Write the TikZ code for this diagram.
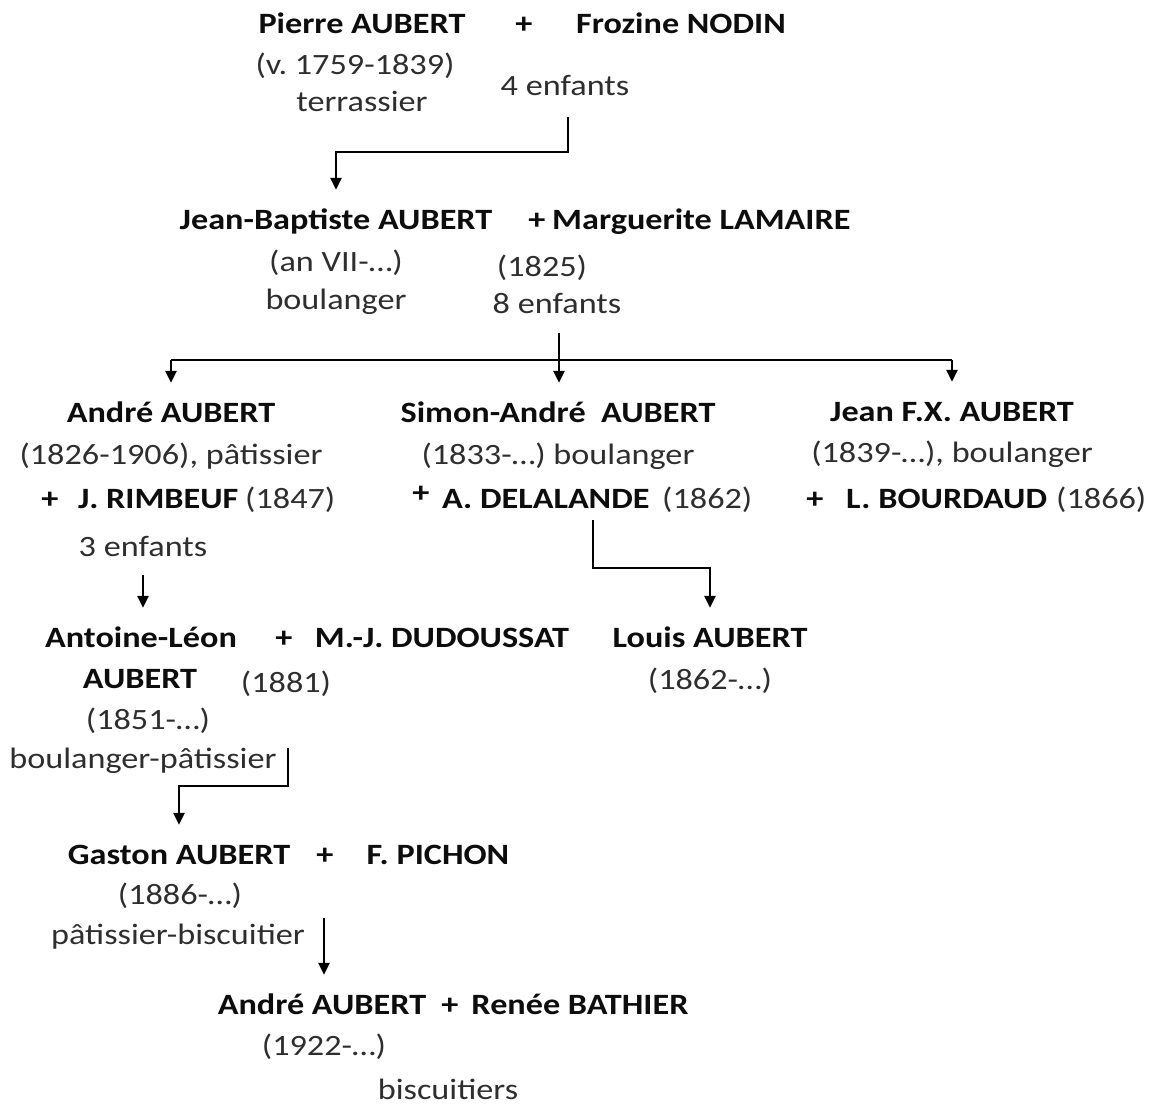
\documentclass[tikz,border=0pt]{standalone}
\usepackage{fontspec}
\setmainfont[FakeStretch=1.16]{Carlito}
\usetikzlibrary{arrows.meta}
\frenchspacing
\begin{document}
\begin{tikzpicture}[x=1pt,y=-1pt,
  every node/.style={inner sep=0pt, text height=20pt, text depth=0pt,
    font=\fontsize{29.5}{35}\selectfont},
  nm/.style={anchor=base, text=black!95, font=\fontsize{29.5}{35}\selectfont\bfseries},
  info/.style={anchor=base, text=black!82},
  link/.style={line width=2.4pt, black},
  arr/.style={link, -{Triangle[width=11pt,length=12pt]}, shorten >=19pt}]
\useasboundingbox (0,0) rectangle (1153,1106);

% generation 1
\node[nm] (pierre) at (362,33) {Pierre AUBERT};
\node[nm] (plus1) at (524,33) {+};
\node[nm] (frozine) at (681,33) {Frozine NODIN};
\node[info] (pierreD) at (355,74) {(v. 1759-1839)};
\node[info] (pierreM) at (362,111) {terrassier};
\node[info] (enf4) at (565,95) {4 enfants};

% generation 2
\node[nm] (jb) at (336,229) {Jean-Baptiste AUBERT};
\node[nm] (plus2) at (537,229) {+};
\node[nm, anchor=base west] (marg) at (552,229) {Marguerite LAMAIRE};
\node[info] (jbD) at (336,271) {(an VII-…)};
\node[info] (jbM) at (336,309) {boulanger};
\node[info] (m1825) at (542,276) {(1825)};
\node[info] (enf8) at (557,313) {8 enfants};

% generation 3
\node[nm] (andre) at (171,422) {André AUBERT};
\node[info] (andreD) at (171,464) {(1826-1906), pâtissier};
\node[nm] (plus3) at (50,508) {+};
\node[nm, anchor=base west] (rimbeuf) at (78,508) {J. RIMBEUF};
\node[info, anchor=base west] (m1847) at (245,508) {(1847)};
\node[info] (enf3) at (143,556) {3 enfants};

\node[nm] (simon) at (558,422) {Simon-André\ \ AUBERT};
\node[info] (simonD) at (558,464) {(1833-…) boulanger};
\node[nm] (plus4) at (421,502) {+};
\node[nm, anchor=base west] (delalande) at (442,508) {A. DELALANDE};
\node[info, anchor=base west] (m1862) at (662,508) {(1862)};

\node[nm] (jean) at (952,421) {Jean F.X. AUBERT};
\node[info] (jeanD) at (952,462) {(1839-…), boulanger};
\node[nm] (plus5) at (815,508) {+};
\node[nm, anchor=base west] (bourdaud) at (846,508) {L. BOURDAUD};
\node[info, anchor=base west] (m1866) at (1056,508) {(1866)};

% generation 4
\node[nm] (antoine) at (141,647) {Antoine-Léon};
\node[nm] (antoine2) at (140,688) {AUBERT};
\node[info] (antoineD) at (148,729) {(1851-…)};
\node[info] (antoineM) at (143,768) {boulanger-pâtissier};
\node[nm] (plus6) at (284,647) {+};
\node[nm] (dudoussat) at (442,647) {M.-J. DUDOUSSAT};
\node[info] (m1881) at (286,692) {(1881)};
\node[nm] (louis) at (710,647) {Louis AUBERT};
\node[info] (louisD) at (710,689) {(1862-…)};

% generation 5
\node[nm] (gaston) at (179,864) {Gaston AUBERT};
\node[nm] (plus7) at (325,864) {+};
\node[nm] (pichon) at (438,864) {F. PICHON};
\node[info] (gastonD) at (180,904) {(1886-…)};
\node[info] (gastonM) at (178,944) {pâtissier-biscuitier};

% generation 6
\node[nm] (andre2) at (322,1014) {André AUBERT};
\node[nm] (plus8) at (450,1014) {+};
\node[nm] (renee) at (580,1014) {Renée BATHIER};
\node[info] (andre2D) at (324,1055) {(1922-…)};
\node[info] (andre2M) at (448,1099) {biscuitiers};

% bend points of the descent lines
\coordinate (k1) at (568,152);
\coordinate (k2) at (559,360);
\coordinate (k4) at (593,568);
\coordinate (k5) at (288,786);
\coordinate (k6) at (324,918);

% descent lines
\draw[arr, shorten <=22pt] (enf4.south -| k1) -- (k1) -| (jb.north);
\draw[link] (k2 -| andre.north) -- (k2 -| jean.north);
\draw[arr, shorten <=20pt] (enf8.south -| k2) -- (simon.north -| k2);
\draw[arr] (k2 -| andre.north) -- (andre.north);
\draw[arr] (k2 -| jean.north) -- (jean.north);
\draw[arr, shorten <=19pt] (enf3.south) -- (enf3.south |- antoine.north);
\draw[arr, shorten <=12pt] (delalande.south -| k4) -- (k4) -| (louis.north);
\draw[arr] (antoineM.north -| k5) -- (k5) -| (gaston.north);
\draw[arr] (k6) -- (k6 |- andre2.north);
\end{tikzpicture}
\end{document}
